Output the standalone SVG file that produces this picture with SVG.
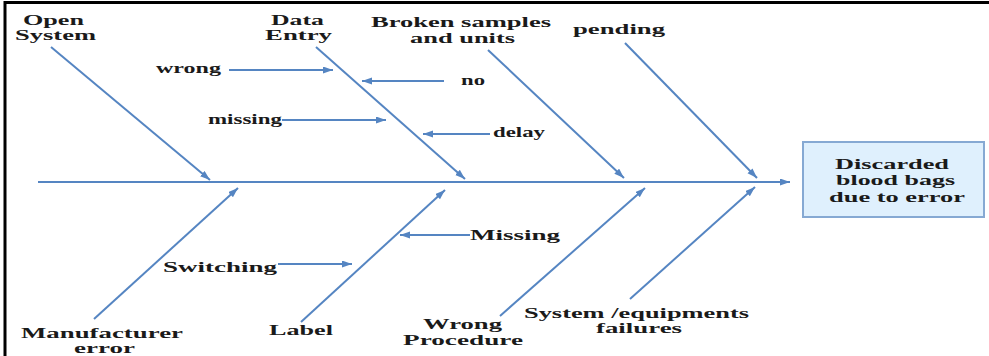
<svg xmlns="http://www.w3.org/2000/svg" width="989" height="356" viewBox="0 0 989 356">
<style>
.t{font-family:"Liberation Serif","Times New Roman",serif;font-weight:bold;font-size:15px;fill:#1a1a1a}
.c{stroke:#5585c2;stroke-width:2;fill:none;marker-end:url(#ah)}
</style>
<defs>
<marker id="ah" markerUnits="userSpaceOnUse" markerWidth="11" markerHeight="8" refX="10" refY="3.5" orient="auto">
<path d="M0,0 L10,3.5 L0,7 Z" fill="#5585c2"/>
</marker>
</defs>
<rect width="989" height="356" fill="#ffffff"/>
<path d="M5,356 V2.5 H989" stroke="#000" stroke-width="3" fill="none"/>
<g id="connectors">
<line class="c" x1="38" y1="182" x2="790" y2="182"/>
<line class="c" x1="51" y1="47" x2="210" y2="180"/>
<line class="c" x1="316" y1="47" x2="465" y2="179"/>
<line class="c" x1="488" y1="50" x2="624" y2="178"/>
<line class="c" x1="625" y1="43" x2="757" y2="178"/>
<line class="c" x1="94" y1="319" x2="238" y2="188"/>
<line class="c" x1="301" y1="322" x2="445" y2="190"/>
<line class="c" x1="500" y1="316" x2="645" y2="188"/>
<line class="c" x1="630" y1="299" x2="755" y2="187"/>
<line class="c" x1="229" y1="70" x2="333" y2="70"/>
<line class="c" x1="444" y1="81" x2="362" y2="81"/>
<line class="c" x1="282" y1="120" x2="386" y2="120"/>
<line class="c" x1="490" y1="134" x2="423" y2="134"/>
<line class="c" x1="278" y1="264" x2="352" y2="264"/>
<line class="c" x1="470" y1="235" x2="400" y2="235"/>
</g>
<g id="effect">
<rect x="803" y="142" width="181" height="75" fill="#dff0fd" stroke="#86a9d3" stroke-width="2"/>
<text class="t" x="835" y="169" textLength="114" lengthAdjust="spacingAndGlyphs">Discarded</text>
<text class="t" x="836" y="185" textLength="119" lengthAdjust="spacingAndGlyphs">blood bags</text>
<text class="t" x="829" y="202" textLength="136" lengthAdjust="spacingAndGlyphs">due to error</text>
</g>
<g id="open-system">
<text class="t" x="23" y="25" textLength="61" lengthAdjust="spacingAndGlyphs">Open</text>
<text class="t" x="15" y="40" textLength="81" lengthAdjust="spacingAndGlyphs">System</text>
</g>
<g id="data-entry">
<text class="t" x="271" y="25" textLength="53" lengthAdjust="spacingAndGlyphs">Data</text>
<text class="t" x="265" y="40" textLength="67" lengthAdjust="spacingAndGlyphs">Entry</text>
</g>
<g id="broken-samples">
<text class="t" x="371" y="27" textLength="180" lengthAdjust="spacingAndGlyphs">Broken samples</text>
<text class="t" x="410" y="43" textLength="105" lengthAdjust="spacingAndGlyphs">and units</text>
</g>
<g id="pending">
<text class="t" x="573" y="34" textLength="92" lengthAdjust="spacingAndGlyphs">pending</text>
</g>
<g id="wrong"><text class="t" x="156" y="73" textLength="65" lengthAdjust="spacingAndGlyphs">wrong</text></g>
<g id="no"><text class="t" x="461" y="85" textLength="24" lengthAdjust="spacingAndGlyphs">no</text></g>
<g id="missing"><text class="t" x="208" y="124" textLength="74" lengthAdjust="spacingAndGlyphs">missing</text></g>
<g id="delay"><text class="t" x="493" y="137" textLength="52" lengthAdjust="spacingAndGlyphs">delay</text></g>
<g id="switching"><text class="t" x="163" y="272" textLength="114" lengthAdjust="spacingAndGlyphs">Switching</text></g>
<g id="missing2"><text class="t" x="470" y="240" textLength="90" lengthAdjust="spacingAndGlyphs">Missing</text></g>
<g id="manufacturer-error">
<text class="t" x="21" y="338" textLength="162" lengthAdjust="spacingAndGlyphs">Manufacturer</text>
<text class="t" x="74" y="353" textLength="61" lengthAdjust="spacingAndGlyphs">error</text>
</g>
<g id="label"><text class="t" x="269" y="335" textLength="64" lengthAdjust="spacingAndGlyphs">Label</text></g>
<g id="wrong-procedure">
<text class="t" x="423" y="329" textLength="79" lengthAdjust="spacingAndGlyphs">Wrong</text>
<text class="t" x="403" y="345" textLength="120" lengthAdjust="spacingAndGlyphs">Procedure</text>
</g>
<g id="system-failures">
<text class="t" x="524" y="318" textLength="225" lengthAdjust="spacingAndGlyphs">System /equipments</text>
<text class="t" x="596" y="333" textLength="86" lengthAdjust="spacingAndGlyphs">failures</text>
</g>
</svg>
